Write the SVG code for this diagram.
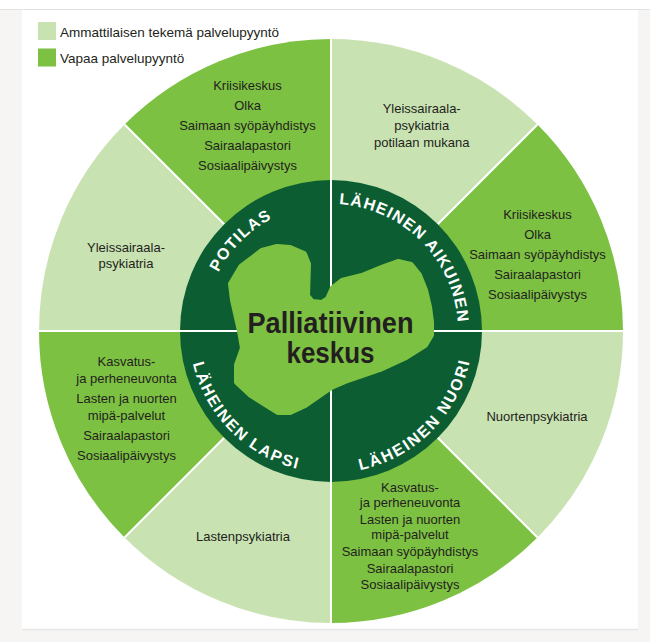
<svg xmlns="http://www.w3.org/2000/svg" width="650" height="642" viewBox="0 0 650 642">
  <style>
    .light { fill: #c9e2b2; }
    .mid { fill: #7dc142; }
    .dark { fill: #0c5e32; }
    .sep { stroke: #ffffff; stroke-width: 2; fill: none; }
    .lbl { font-family: "Liberation Sans", Arial, sans-serif; font-size: 13px; fill: #231f20; text-anchor: middle; }
    .leg { font-family: "Liberation Sans", Arial, sans-serif; font-size: 13.5px; fill: #231f20; }
    .ring { font-family: "Liberation Sans", Arial, sans-serif; font-size: 16px; font-weight: bold; fill: #ffffff; text-anchor: middle; }
    .center { font-family: "Liberation Sans", Arial, sans-serif; font-size: 30px; font-weight: bold; fill: #231f20; text-anchor: middle; }
  </style>
  <defs>
    <path id="arcPotilas" d="M 204 331 A 127 127 0 0 1 331 204"/>
    <path id="arcAikuinen" d="M 331 204 A 127 127 0 0 1 458 331"/>
    <path id="arcLapsi" d="M 189 331 A 142 142 0 0 0 331 473"/>
    <path id="arcNuori" d="M 331 473 A 142 142 0 0 0 473 331"/>
  </defs>

  <!-- page background and card -->
  <rect x="0" y="0" width="650" height="642" fill="#f6f5f3"/>
  <rect x="0" y="0" width="650" height="9" fill="#ffffff"/>
  <line x1="0" y1="9.5" x2="650" y2="9.5" stroke="#e2e2e2" stroke-width="1"/>
  <rect x="22" y="10" width="616" height="619" fill="#ffffff"/>
  <line x1="22" y1="629.5" x2="638" y2="629.5" stroke="#e6e6e6" stroke-width="1.5"/>

  <!-- legend -->
  <g id="legend">
    <rect x="38" y="22" width="18" height="18" class="light"/>
    <text x="60" y="36.5" class="leg">Ammattilaisen tekemä palvelupyyntö</text>
    <rect x="38" y="48.5" width="18" height="18" class="mid"/>
    <text x="60" y="62.5" class="leg">Vapaa palvelupyyntö</text>
  </g>

  <!-- outer wedges -->
  <g id="wedge-top-left">
    <path class="mid" d="M331,331 L124.52,124.52 A292,292 0 0 1 331,39 Z"/>
    <text class="lbl" x="247.5" y="90">Kriisikeskus</text>
    <text class="lbl" x="247.5" y="110">Olka</text>
    <text class="lbl" x="247.5" y="130">Saimaan syöpäyhdistys</text>
    <text class="lbl" x="247.5" y="150">Sairaalapastori</text>
    <text class="lbl" x="247.5" y="169.5">Sosiaalipäivystys</text>
  </g>
  <g id="wedge-top-right">
    <path class="light" d="M331,331 L331,39 A292,292 0 0 1 537.48,124.52 Z"/>
    <text class="lbl" x="421.7" y="113">Yleissairaala-</text>
    <text class="lbl" x="421.7" y="130">psykiatria</text>
    <text class="lbl" x="421.7" y="147">potilaan mukana</text>
  </g>
  <g id="wedge-right-upper">
    <path class="mid" d="M331,331 L537.48,124.52 A292,292 0 0 1 623,331 Z"/>
    <text class="lbl" x="537.5" y="218.5">Kriisikeskus</text>
    <text class="lbl" x="537.5" y="239">Olka</text>
    <text class="lbl" x="537.5" y="259">Saimaan syöpäyhdistys</text>
    <text class="lbl" x="537.5" y="279">Sairaalapastori</text>
    <text class="lbl" x="537.5" y="299">Sosiaalipäivystys</text>
  </g>
  <g id="wedge-right-lower">
    <path class="light" d="M331,331 L623,331 A292,292 0 0 1 537.48,537.48 Z"/>
    <text class="lbl" x="537" y="420.5">Nuortenpsykiatria</text>
  </g>
  <g id="wedge-bottom-right">
    <path class="mid" d="M331,331 L537.48,537.48 A292,292 0 0 1 331,623 Z"/>
    <text class="lbl" x="410" y="492">Kasvatus-</text>
    <text class="lbl" x="410" y="506.5">ja perheneuvonta</text>
    <text class="lbl" x="410" y="524">Lasten ja nuorten</text>
    <text class="lbl" x="410" y="538.5">mipä-palvelut</text>
    <text class="lbl" x="410" y="556">Saimaan syöpäyhdistys</text>
    <text class="lbl" x="410" y="572.5">Sairaalapastori</text>
    <text class="lbl" x="410" y="589">Sosiaalipäivystys</text>
  </g>
  <g id="wedge-bottom-left">
    <path class="light" d="M331,331 L331,623 A292,292 0 0 1 124.52,537.48 Z"/>
    <text class="lbl" x="243" y="540.5">Lastenpsykiatria</text>
  </g>
  <g id="wedge-left-lower">
    <path class="mid" d="M331,331 L124.52,537.48 A292,292 0 0 1 39,331 Z"/>
    <text class="lbl" x="126.5" y="366">Kasvatus-</text>
    <text class="lbl" x="126.5" y="382.5">ja perheneuvonta</text>
    <text class="lbl" x="126.5" y="403">Lasten ja nuorten</text>
    <text class="lbl" x="126.5" y="419.5">mipä-palvelut</text>
    <text class="lbl" x="126.5" y="439.5">Sairaalapastori</text>
    <text class="lbl" x="126.5" y="460">Sosiaalipäivystys</text>
  </g>
  <g id="wedge-left-upper">
    <path class="light" d="M331,331 L39,331 A292,292 0 0 1 124.52,124.52 Z"/>
    <text class="lbl" x="126" y="251.5">Yleissairaala-</text>
    <text class="lbl" x="126" y="268">psykiatria</text>
  </g>

  <!-- separators -->
  <g id="connectors">
    <line class="sep" x1="331" y1="331" x2="124.52" y2="124.52"/>
    <line class="sep" x1="331" y1="331" x2="537.48" y2="124.52"/>
    <line class="sep" x1="331" y1="331" x2="537.48" y2="537.48"/>
    <line class="sep" x1="331" y1="331" x2="124.52" y2="537.48"/>
  </g>

  <!-- inner ring -->
  <g id="ring">
    <circle cx="331" cy="331" r="151" class="dark"/>
    <line class="sep" x1="331" y1="38" x2="331" y2="624"/>
    <line class="sep" x1="38" y1="331" x2="624" y2="331"/>
  </g>
  <g id="ring-potilas">
    <text class="ring" letter-spacing="1.2"><textPath href="#arcPotilas" startOffset="50%">POTILAS</textPath></text>
  </g>
  <g id="ring-laheinen-aikuinen">
    <text class="ring" letter-spacing="1.2"><textPath href="#arcAikuinen" startOffset="50%">LÄHEINEN AIKUINEN</textPath></text>
  </g>
  <g id="ring-laheinen-lapsi">
    <text class="ring" letter-spacing="1.7"><textPath href="#arcLapsi" startOffset="50%">LÄHEINEN LAPSI</textPath></text>
  </g>
  <g id="ring-laheinen-nuori">
    <text class="ring" letter-spacing="1.9"><textPath href="#arcNuori" startOffset="50%">LÄHEINEN NUORI</textPath></text>
  </g>

  <!-- center -->
  <g id="center">
    <polygon class="mid" stroke="#7dc142" stroke-width="6" stroke-linejoin="round"
      points="231,284 241,267 262,251 277,247 290,248 304,254 308,264 307,296 312,302 322,303 328,299 333,288 342,281 362,276 384,267 398,262 411,265 419,275 425,290 429,307 431,322 431,335 425,345 406,357 380,369 345,381 331,387 305,405 290,412 278,412 251,395 237,382 237,365 243,348 240,331 233,300"/>
    <text class="center" x="330.5" y="333" textLength="166" lengthAdjust="spacingAndGlyphs">Palliatiivinen</text>
    <text class="center" x="330.5" y="362.5" textLength="88" lengthAdjust="spacingAndGlyphs">keskus</text>
  </g>
</svg>
